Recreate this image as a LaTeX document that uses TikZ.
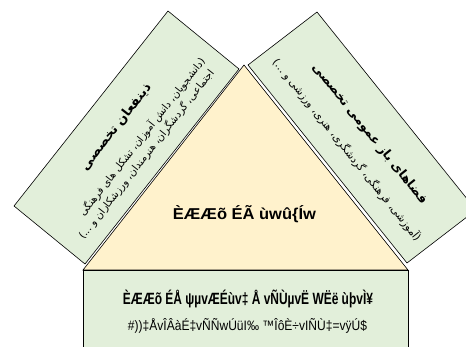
\documentclass[tikz,border=0pt]{standalone}
\usepackage{fontspec}
\setmainfont{Liberation Sans}
\newfontfamily\fafont[Script=Arabic]{DejaVu Sans}
\TeXXeTstate=1
\definecolor{gfill}{HTML}{E2EFDA}
\definecolor{tfill}{HTML}{FFF2CC}
\begin{document}
\begin{tikzpicture}[x=1pt,y=-1pt,
  panel/.style={fill=gfill,draw=black,line width=0.6pt},
  tri/.style={fill=tfill,draw=black,line width=0.6pt},
  fa/.style={font=\fafont,inner sep=0pt},
  moji/.style={inner sep=0pt,anchor=base}]
\useasboundingbox (0,0) rectangle (466,347);
\begin{scope}
\clip (0,0) rectangle (466,347);
% side panels
\draw[panel] (168,11) -- (239,69) -- (85,264) -- (14,206) -- cycle;
\draw[panel] (317,12) -- (248,65) -- (407,263) -- (476,210) -- cycle;
% bottom panel
\draw[panel] (83,270) rectangle (408,352);
% triangle
\draw[tri] (244,65) -- (408,270) -- (83,270) -- cycle;
% left panel texts
\node[fa,rotate=51.9] (lt) at (116,127) {\resizebox{106pt}{!}{\bfseries\beginR ذینفعان تخصصی\endR}};
\node[fa,rotate=51.9] (l1) at (142,137) {\resizebox{197pt}{!}{\beginR (دانشجویان، دانش آموزان، تشکل های فرهنگی\endR}};
\node[fa,rotate=51.9] (l2) at (146.5,154.5) {\resizebox{212pt}{!}{\beginR اجتماعی، گردشگران، هنرمندان، ورزشکاران و ...)\endR}};
% right panel texts
\node[fa,rotate=-51.3] (rt) at (369.5,134) {\resizebox{176pt}{!}{\bfseries\beginR فضاهای باز عمومی تخصصی\endR}};
\node[fa,rotate=-51.3] (r1) at (347,150) {\resizebox{230pt}{!}{\beginR (آموزشی، فرهنگی، گردشگری، هنری، ورزشی و ...)\endR}};
% triangle and bottom texts
\node[moji] (tt) at (244.5,220) {\resizebox{143pt}{14pt}{\bfseries ÈÆÆõ ÉÃ ùwû\{Íw}};
\node[moji] (b1) at (248,305) {\resizebox{250pt}{14.5pt}{\bfseries ÈÆÆõ ÉÅ ψµvÆÉùv‡ Å vÑÙµvË WËë ùþvÌ¥}};
\node[moji] (b2) at (247.5,330.5) {\resizebox{239pt}{12pt}{\#))‡ÅvÎÂàÉ‡vÑÑwÚüI‰ ™ÎôÈ÷vIÑÙ‡=vÿÚ\$}};
\end{scope}
\end{tikzpicture}
\end{document}
